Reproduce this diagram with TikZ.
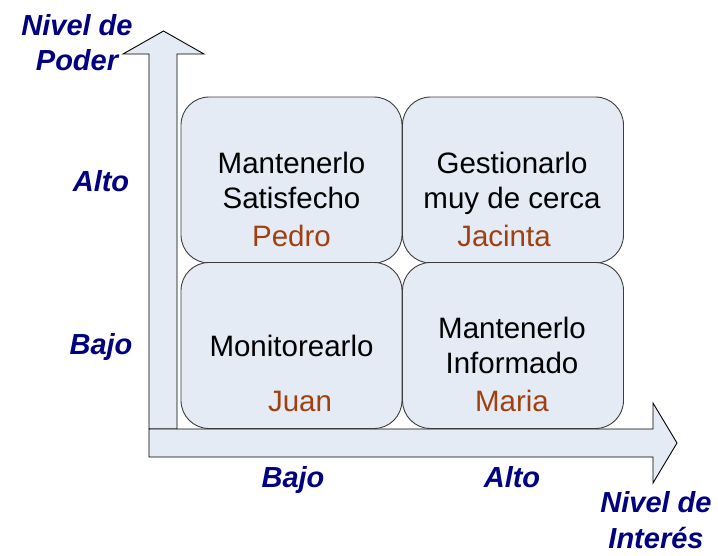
\documentclass[tikz,border=0pt]{standalone}
\usepackage{fontspec}
\setmainfont{Liberation Sans}
\definecolor{boxfill}{RGB}{228,235,245}
\definecolor{navy}{RGB}{0,0,128}
\definecolor{rust}{RGB}{160,64,16}
\definecolor{edge}{RGB}{60,60,60}
\begin{document}
\begin{tikzpicture}[x=1pt,y=-1pt,
  quad/.style={draw=edge,line width=0.9pt,fill=boxfill,rounded corners=28pt,minimum width=221pt,minimum height=166pt,inner sep=0pt},
  arrowshape/.style={draw=black,line width=0.9pt,fill=boxfill},
  axislbl/.style={text=navy,font=\fontsize{29}{33}\selectfont\bfseries\itshape,anchor=base,inner sep=0pt},
  boxtxt/.style={text=black,font=\fontsize{29.5}{34}\selectfont,anchor=base,inner sep=0pt},
  nametxt/.style={text=rust,font=\fontsize{29.5}{34}\selectfont,anchor=base,inner sep=0pt}]
\useasboundingbox (0,0) rectangle (718,555);
% vertical arrow
\draw[arrowshape] (149,429) -- (149,54) -- (123,54) -- (163.5,31) -- (204,54) -- (177,54) -- (177,429) -- cycle;
% horizontal arrow
\draw[arrowshape] (149,429) -- (653,429) -- (653,403) -- (677,443) -- (653,483) -- (653,457) -- (149,457) -- cycle;
% quadrants
\node[quad] (tl) at (291.5,180) {};
\node[quad] (tr) at (513,180) {};
\node[quad] (bl) at (291.5,345.5) {};
\node[quad] (br) at (513,345.5) {};
% texts
\node[boxtxt] (tl1) at (291.5,173) {Mantenerlo};
\node[boxtxt] (tl2) at (291.5,208) {Satisfecho};
\node[nametxt] (tl3) at (291.5,246) {Pedro};
\node[boxtxt] (tr1) at (512,173) {Gestionarlo};
\node[boxtxt] (tr2) at (512,208) {muy de cerca};
\node[nametxt] (tr3) at (504,246) {Jacinta};
\node[boxtxt] (bl1) at (291.5,356) {Monitorearlo};
\node[nametxt] (bl2) at (300,411) {Juan};
\node[boxtxt] (br1) at (512,338) {Mantenerlo};
\node[boxtxt] (br2) at (512,373) {Informado};
\node[nametxt] (br3) at (512,411) {Maria};
% axis labels
\node[axislbl] (ny1) at (77,35) {Nivel de};
\node[axislbl] (ny2) at (77,70) {Poder};
\node[axislbl] (alto1) at (101,191) {Alto};
\node[axislbl] (bajo1) at (101,354) {Bajo};
\node[axislbl] (bajo2) at (293,487) {Bajo};
\node[axislbl] (alto2) at (512,487) {Alto};
\node[axislbl] (nx1) at (656,512) {Nivel de};
\node[axislbl] (nx2) at (656,548) {Interés};
\end{tikzpicture}
\end{document}
